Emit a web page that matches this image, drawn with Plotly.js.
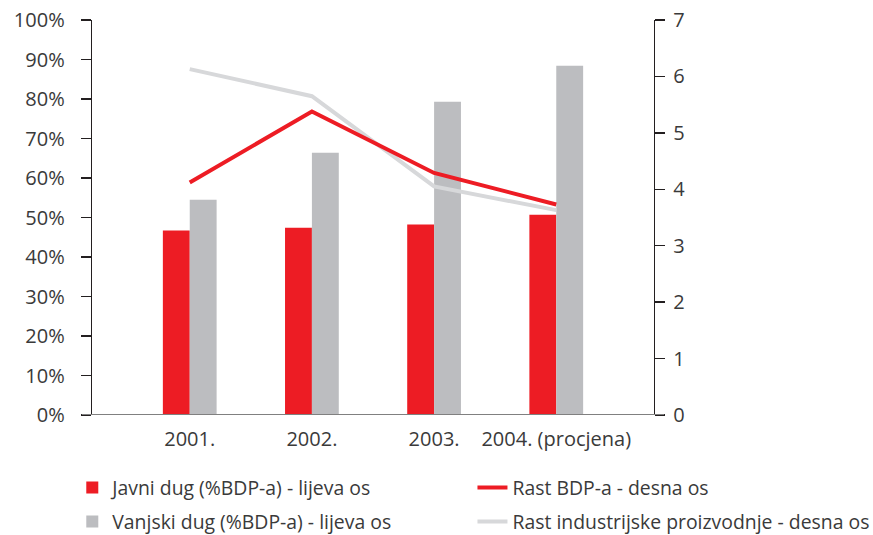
<!DOCTYPE html>
<html>
<head>
<meta charset="utf-8">
<script src="https://cdn.plot.ly/plotly-3.0.1.min.js"></script>
<style>html,body{margin:0;padding:0;background:#fff;}#chart{width:873px;height:535px;}</style>
</head>
<body>
<div id="chart"></div>
<script>
var categories = ['2001.', '2002.', '2003.', '2004. (procjena)'];
var javniDug = [46.7, 47.4, 48.2, 50.7];
var vanjskiDug = [54.5, 66.4, 79.3, 88.4];
var rastBDP = [4.12, 5.38, 4.29, 3.73];
var rastIndustrije = [6.13, 5.65, 4.05, 3.63];
var leftTicks = [0, 10, 20, 30, 40, 50, 60, 70, 80, 90, 100];
var leftTickText = ['0%', '10%', '20%', '30%', '40%', '50%', '60%', '70%', '80%', '90%', '100%'];
var rightTicks = [0, 1, 2, 3, 4, 5, 6, 7];

var names = ['Javni dug (%BDP-a) - lijeva os', 'Vanjski dug (%BDP-a) - lijeva os',
             'Rast BDP-a - desna os', 'Rast industrijske proizvodnje - desna os'];

var RED = '#ED1C24', GRAY = '#BCBDC0', LGRAY = '#D7D8DA', TXT = '#3a3a3a', AX = '#231F20';
var FONT = {family: 'Open Sans, sans-serif', size: 20, color: TXT};
var LFONT = {family: 'Open Sans, sans-serif', size: 19.4, color: TXT};

var traces = [
  {type: 'bar', x: categories, y: javniDug, name: names[0], marker: {color: RED},
   xaxis: 'x', yaxis: 'y', legend: 'legend'},
  {type: 'bar', x: categories, y: vanjskiDug, name: names[1], marker: {color: GRAY},
   xaxis: 'x', yaxis: 'y', legend: 'legend3'},
  {type: 'scatter', mode: 'lines', x: categories, y: rastIndustrije, name: names[3],
   line: {color: LGRAY, width: 4}, xaxis: 'x', yaxis: 'y2', legend: 'legend4'},
  {type: 'scatter', mode: 'lines', x: categories, y: rastBDP, name: names[2],
   line: {color: RED, width: 4}, xaxis: 'x', yaxis: 'y2', legend: 'legend2'}
];

function leg(x, y) {
  return {x: x, y: y, xref: 'container', yref: 'container', xanchor: 'left', yanchor: 'middle',
          orientation: 'h', font: LFONT, bgcolor: 'rgba(0,0,0,0)', borderwidth: 0, itemwidth: 30};
}

var layout = {
  width: 873, height: 535,
  margin: {l: 92, r: 219, t: 20, b: 120},
  paper_bgcolor: '#fff', plot_bgcolor: '#fff',
  font: FONT,
  barmode: 'group', bargap: 0.56, bargroupgap: 0,
  showlegend: true,
  xaxis: {type: 'category', range: [-0.8, 3.8], showline: false, showgrid: false,
          zeroline: false, ticks: '', tickfont: FONT, ticklabelstandoff: 10},
  yaxis: {range: [0, 100], tickmode: 'array', tickvals: leftTicks, ticktext: leftTickText,
          showgrid: false, zeroline: false, showline: true, linecolor: AX, linewidth: 1.3,
          ticks: 'outside', ticklen: 10, tickcolor: AX, tickwidth: 1.3,
          tickfont: FONT, ticklabelstandoff: 12},
  yaxis3: {range: [0, 100], tickvals: leftTicks, overlaying: 'y', side: 'left', anchor: 'x',
           showgrid: false, zeroline: false, showline: false, showticklabels: false,
           ticks: 'inside', ticklen: 10, tickcolor: AX, tickwidth: 1.3},
  yaxis2: {range: [0, 7], tickvals: rightTicks, overlaying: 'y', side: 'right', anchor: 'x',
           showgrid: false, zeroline: false, showline: true, linecolor: AX, linewidth: 1.3,
           ticks: 'outside', ticklen: 10, tickcolor: AX, tickwidth: 1.3,
           tickfont: FONT, ticklabelstandoff: 4},
  yaxis4: {range: [0, 7], tickvals: rightTicks, overlaying: 'y', side: 'right', anchor: 'x',
           showgrid: false, zeroline: false, showline: false, showticklabels: false,
           ticks: 'inside', ticklen: 10, tickcolor: AX, tickwidth: 1.3},
  shapes: [
    {type: 'line', xref: 'paper', yref: 'y', x0: -0.018, x1: 1.018, y0: 0, y1: 0,
     line: {color: '#808080', width: 2}}
  ],
  legend: leg(0.0828, 0.0879),
  legend2: leg(0.5412, 0.0879),
  legend3: leg(0.0828, 0.0243),
  legend4: leg(0.5412, 0.0243)
};

Plotly.newPlot('chart', traces, layout, {displayModeBar: false, staticPlot: true});
</script>
</body>
</html>
